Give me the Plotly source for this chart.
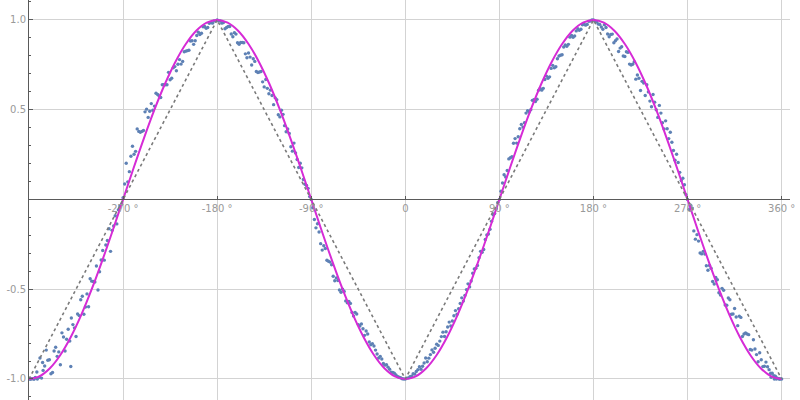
import plotly.graph_objects as go

# ---------------- data ----------------
# noisy measurement points (degrees, value) - first set
pts_x = [
    -360, -358.5, -357, -355, -354, -352, -350, -348, -347, -345, -342, -339, -336, -333, -330, -327, -324,
    -321, -320, -318, -315, -312, -309, -306, -303, -300, -297, -294, -291, -288, -285, -282,
    -279, -276, -273,
    -270, -267, -264, -261, -258, -255, -252, -249, -246, -243, -240, -237, -234, -231, -228,
    -225, -222, -219, -216, -213, -210, -207, -204, -201, -198, -195, -192, -189, -186, -183,
    -180, -177, -174, -171, -168, -165, -162, -159, -156, -153, -150, -147, -144, -141, -138,
    -135, -132, -129, -126, -123, -120, -117, -114, -111, -108, -105, -102, -99, -96, -93,
    -90, -87, -84, -81, -78, -75, -72, -69, -66, -63, -60, -57, -54, -51, -48,
    -45, -42, -39, -36, -33, -30, -27, -24, -21, -18, -15, -12, -9, -6, -3,
    0, 3, 6, 9, 12, 15, 18, 21, 24, 27, 30, 33, 36, 39, 42,
    45, 48, 51, 54, 57, 60, 63, 66, 69, 72, 75, 78, 81, 84, 87,
    90, 93, 96, 99, 102, 105, 108, 111, 114, 117, 120, 123, 126, 129, 132,
    135, 138, 141, 144, 147, 150, 153, 156, 159, 162, 165, 168, 171, 174, 177,
    180, 183, 186, 189, 192, 195, 198, 201, 204, 207, 210, 213, 216, 219, 222,
    225, 228, 231, 234, 237, 240, 243, 246, 249, 252, 255, 258, 261, 264, 267,
    270, 273, 276, 279, 282, 285, 288, 291, 294, 297, 300, 303, 306, 309, 312,
    315, 318, 321, 324, 327, 330, 333, 336, 339, 342, 345, 348, 350, 351, 353,
    354, 355, 357, 358, 360,
]
pts_y = [
    -1.000, -1.000, -0.999, -1.000, -0.991, -1.000, -0.990, -0.995, -0.908, -0.928, -0.896, -0.971, -0.844, -0.874, -0.921, -0.766, -0.779,
    -0.789, -0.930, -0.697, -0.763, -0.647, -0.539, -0.599, -0.598, -0.455, -0.460, -0.504, -0.337, -0.338, -0.229, -0.289,
    -0.148, -0.136, -0.035,
    0.010, 0.202, 0.155, 0.296, 0.268, 0.379, 0.379, 0.488, 0.457, 0.534, 0.520, 0.585, 0.568, 0.639, 0.639,
    0.667, 0.733, 0.717, 0.779, 0.769, 0.826, 0.831, 0.884, 0.884, 0.931, 0.926, 0.963, 0.958, 0.985, 0.994,
    1.000, 0.994, 0.985, 0.958, 0.963, 0.906, 0.921, 0.864, 0.874, 0.811, 0.816, 0.749, 0.769, 0.707, 0.713,
    0.627, 0.619, 0.609, 0.528, 0.555, 0.460, 0.474, 0.377, 0.368, 0.269, 0.259, 0.178, 0.176, 0.085, 0.062,
    0.000, -0.112, -0.135, -0.246, -0.258, -0.339, -0.349, -0.428, -0.437, -0.504, -0.500, -0.565, -0.568, -0.629, -0.629,
    -0.697, -0.693, -0.757, -0.749, -0.809, -0.816, -0.861, -0.874, -0.914, -0.921, -0.946, -0.963, -0.978, -0.990, -0.999,
    -1.000, -0.994, -0.985, -0.973, -0.948, -0.946, -0.911, -0.904, -0.864, -0.851, -0.806, -0.789, -0.739, -0.737, -0.683,
    -0.677, -0.619, -0.609, -0.548, -0.535, -0.470, -0.454, -0.387, -0.368, -0.289, -0.279, -0.198, -0.166, -0.085, -0.052,
    0.000, 0.092, 0.125, 0.226, 0.238, 0.339, 0.349, 0.418, 0.427, 0.494, 0.500, 0.555, 0.558, 0.619, 0.619,
    0.687, 0.683, 0.747, 0.739, 0.799, 0.806, 0.861, 0.864, 0.914, 0.911, 0.951, 0.948, 0.978, 0.975, 0.994,
    1.000, 0.989, 0.975, 0.948, 0.958, 0.906, 0.921, 0.884, 0.824, 0.851, 0.796, 0.819, 0.749, 0.767, 0.693,
    0.607, 0.649, 0.639, 0.548, 0.585, 0.500, 0.524, 0.427, 0.438, 0.339, 0.319, 0.218, 0.206, 0.105, 0.082,
    0.000, -0.032, -0.175, -0.196, -0.298, -0.289, -0.369, -0.368, -0.457, -0.434, -0.520, -0.495, -0.588, -0.549, -0.639,
    -0.607, -0.703, -0.657, -0.749, -0.749, -0.836, -0.781, -0.864, -0.854, -0.931, -0.906, -0.948, -0.990, -0.968, -1.000,
    -0.985, -1.000, -0.999, -1.000, -1.000,
]

# second set of measurement points
pts2_x = [
    -358.5, -355.5, -352.5, -349.5, -346.5, -343.5, -340.5, -337.5, -334.5, -331.5, -328.5, -325.5, -322.5, -319.5, -316.5,
    -313.5, -310.5, -307.5, -304.5, -301.5, -298.5, -295.5, -292.5, -289.5, -286.5, -283.5, -280.5, -277.5, -274.5, -271.5,
    -268.5, -265.5, -262.5, -259.5, -256.5, -253.5, -250.5, -247.5, -244.5, -241.5, -238.5, -235.5, -232.5, -229.5, -226.5,
    -223.5, -220.5, -217.5, -214.5, -211.5, -208.5, -205.5, -202.5, -199.5, -196.5, -193.5, -190.5, -187.5, -184.5, -181.5,
    -178.5, -175.5, -172.5, -169.5, -166.5, -163.5, -160.5, -157.5, -154.5, -151.5, -148.5, -145.5, -142.5, -139.5, -136.5,
    -133.5, -130.5, -127.5, -124.5, -121.5, -118.5, -115.5, -112.5, -109.5, -106.5, -103.5, -100.5, -97.5, -94.5, -91.5,
    -88.5, -85.5, -82.5, -79.5, -76.5, -73.5, -70.5, -67.5, -64.5, -61.5, -58.5, -55.5, -52.5, -49.5, -46.5,
    -43.5, -40.5, -37.5, -34.5, -31.5, -28.5, -25.5, -22.5, -19.5, -16.5, -13.5, -10.5, -7.5, -4.5, -1.5,
    1.5, 4.5, 7.5, 10.5, 13.5, 16.5, 19.5, 22.5, 25.5, 28.5, 31.5, 34.5, 37.5, 40.5, 43.5,
    46.5, 49.5, 52.5, 55.5, 58.5, 61.5, 64.5, 67.5, 70.5, 73.5, 76.5, 79.5, 82.5, 85.5, 88.5,
    91.5, 94.5, 97.5, 100.5, 103.5, 106.5, 109.5, 112.5, 115.5, 118.5, 121.5, 124.5, 127.5, 130.5, 133.5,
    136.5, 139.5, 142.5, 145.5, 148.5, 151.5, 154.5, 157.5, 160.5, 163.5, 166.5, 169.5, 172.5, 175.5, 178.5,
    181.5, 184.5, 187.5, 190.5, 193.5, 196.5, 199.5, 202.5, 205.5, 208.5, 211.5, 214.5, 217.5, 220.5, 223.5,
    226.5, 229.5, 232.5, 235.5, 238.5, 241.5, 244.5, 247.5, 250.5, 253.5, 256.5, 259.5, 262.5, 265.5, 268.5,
    271.5, 274.5, 277.5, 280.5, 283.5, 286.5, 289.5, 292.5, 295.5, 298.5, 301.5, 304.5, 307.5, 310.5, 313.5,
    316.5, 319.5, 322.5, 325.5, 328.5, 331.5, 334.5, 337.5, 340.5, 343.5, 346.5, 349.5, 352.5, 355.5, 358.5,
]
pts2_y = [
    -1.000, -1.000, -0.961, -0.883, -0.952, -0.839, -0.893, -0.964, -0.823, -0.849, -0.743, -0.844, -0.723, -0.660, -0.715,
    -0.638, -0.559, -0.639, -0.526, -0.442, -0.457, -0.371, -0.403, -0.284, -0.254, -0.163, -0.172, -0.091, -0.058, -0.026,
    0.086, 0.098, 0.241, 0.252, 0.393, 0.374, 0.384, 0.503, 0.491, 0.497, 0.592, 0.576, 0.639, 0.639, 0.708,
    0.675, 0.740, 0.753, 0.754, 0.823, 0.829, 0.883, 0.864, 0.913, 0.919, 0.962, 0.953, 0.981, 0.982, 0.995,
    0.995, 0.982, 0.951, 0.963, 0.922, 0.929, 0.873, 0.874, 0.873, 0.789, 0.793, 0.784, 0.713, 0.710, 0.655,
    0.668, 0.589, 0.579, 0.566, 0.472, 0.497, 0.411, 0.393, 0.294, 0.314, 0.223, 0.202, 0.111, 0.078, 0.016,
    -0.046, -0.158, -0.181, -0.282, -0.273, -0.344, -0.364, -0.453, -0.451, -0.517, -0.512, -0.576, -0.579, -0.649, -0.638,
    -0.705, -0.720, -0.733, -0.794, -0.803, -0.839, -0.883, -0.889, -0.923, -0.934, -0.962, -0.968, -0.986, -0.993, -1.000,
    -0.995, -0.987, -0.971, -0.958, -0.932, -0.929, -0.883, -0.884, -0.838, -0.829, -0.813, -0.764, -0.763, -0.710, -0.705,
    -0.648, -0.639, -0.579, -0.566, -0.502, -0.487, -0.411, -0.383, -0.324, -0.294, -0.223, -0.192, -0.121, -0.078, -0.016,
    0.046, 0.138, 0.161, 0.232, 0.313, 0.314, 0.394, 0.403, 0.481, 0.487, 0.552, 0.546, 0.609, 0.609, 0.668,
    0.675, 0.730, 0.733, 0.784, 0.803, 0.849, 0.853, 0.904, 0.903, 0.939, 0.942, 0.973, 0.971, 0.992, 1.000,
    0.995, 0.977, 0.961, 0.973, 0.922, 0.919, 0.873, 0.894, 0.843, 0.799, 0.823, 0.754, 0.753, 0.670, 0.675,
    0.658, 0.579, 0.599, 0.516, 0.542, 0.457, 0.481, 0.393, 0.394, 0.374, 0.273, 0.252, 0.151, 0.118, 0.026,
    -0.056, -0.048, -0.221, -0.232, -0.303, -0.304, -0.394, -0.383, -0.471, -0.447, -0.532, -0.506, -0.589, -0.559, -0.638,
    -0.655, -0.650, -0.763, -0.744, -0.753, -0.839, -0.833, -0.904, -0.893, -0.929, -0.932, -0.968, -0.981, -0.994, -1.000,
]

# smooth reference curve (magenta), sampled every 10 degrees
curve_x = list(range(-360, 361, 10))
curve_y = [
    -1.000, -0.985, -0.940, -0.866, -0.766, -0.643, -0.500, -0.342, -0.174,
    0.000, 0.174, 0.342, 0.500, 0.643, 0.766, 0.866, 0.940, 0.985,
    1.000, 0.985, 0.940, 0.866, 0.766, 0.643, 0.500, 0.342, 0.174,
    0.000, -0.174, -0.342, -0.500, -0.643, -0.766, -0.866, -0.940, -0.985,
    -1.000, -0.985, -0.940, -0.866, -0.766, -0.643, -0.500, -0.342, -0.174,
    0.000, 0.174, 0.342, 0.500, 0.643, 0.766, 0.866, 0.940, 0.985,
    1.000, 0.985, 0.940, 0.866, 0.766, 0.643, 0.500, 0.342, 0.174,
    0.000, -0.174, -0.342, -0.500, -0.643, -0.766, -0.866, -0.940, -0.985,
    -1.000,
]

# triangle wave (gray dashed)
tri_x = [-360, -180, 0, 180, 360]
tri_y = [-1, 1, -1, 1, -1]

# axis ticks
x_tickvals = [-270, -180, -90, 0, 90, 180, 270, 360]
x_ticktext = ["-270 °", "-180 °", "-90 °", "0", "90 °", "180 °", "270 °", "360 °"]
y_tickvals = [-1.0, -0.5, 0.5, 1.0]
y_ticktext = ["-1.0", "-0.5", "0.5", "1.0"]

# ---------------- figure ----------------
Y_MIN, Y_MAX = -1.117, 1.111
zero_pos = (0 - Y_MIN) / (Y_MAX - Y_MIN)

fig = go.Figure()
fig.add_trace(go.Scatter(
    x=pts_x + pts2_x, y=pts_y + pts2_y, mode="markers",
    marker=dict(color="#5e81b5", size=3.4, line=dict(width=0)),
    showlegend=False, hoverinfo="skip",
))
fig.add_trace(go.Scatter(
    x=curve_x, y=curve_y, mode="lines", line_shape="spline",
    line=dict(color="#d62bd6", width=2),
    showlegend=False, hoverinfo="skip",
))
fig.add_trace(go.Scatter(
    x=tri_x, y=tri_y, mode="lines",
    line=dict(color="#7a7a7a", width=1.6, dash="3px,3px"),
    showlegend=False, hoverinfo="skip",
))

fig.update_layout(
    width=800, height=400,
    margin=dict(l=29, r=10, t=0, b=0, autoexpand=False),
    paper_bgcolor="white", plot_bgcolor="white",
    xaxis=dict(
        range=[-360, 368], tickvals=x_tickvals, ticktext=x_ticktext,
        showgrid=True, gridcolor="#d3d3d3", gridwidth=1, zeroline=False,
        showline=True, linecolor="#5a5a5a", linewidth=1,
        anchor="free", position=zero_pos,
        ticks="inside", ticklen=3, tickcolor="#5a5a5a",
        tickfont=dict(family="DejaVu Sans", size=10, color="#999999"),
        automargin=False, fixedrange=True,
    ),
    yaxis=dict(
        range=[Y_MIN, Y_MAX], tickvals=y_tickvals, ticktext=y_ticktext,
        showgrid=True, gridcolor="#d3d3d3", gridwidth=1, zeroline=False,
        showline=True, linecolor="#5a5a5a", linewidth=1,
        ticks="inside", ticklen=4, tickcolor="#5a5a5a",
        minor=dict(dtick=0.1, ticks="inside", ticklen=2, tickcolor="#5a5a5a", showgrid=False),
        tickfont=dict(family="DejaVu Sans", size=10, color="#999999"),
        automargin=False, fixedrange=True,
    ),
)

fig.write_html(
    "out.html",
    config={"displayModeBar": False},
    post_script="document.body.style.margin='0px';",
)
